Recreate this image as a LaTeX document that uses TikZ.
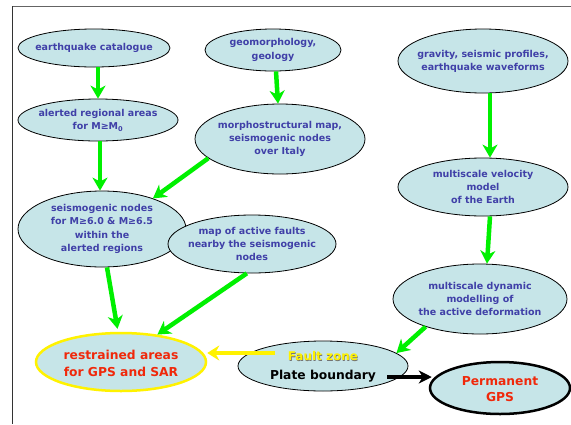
\documentclass[tikz,border=0pt]{standalone}
\usepackage{fontspec}
\setmainfont{DejaVu Sans}
\usetikzlibrary{shapes.geometric,arrows.meta}
\definecolor{bubble}{RGB}{198,229,232}
\definecolor{inktext}{RGB}{64,64,168}
\definecolor{flow}{RGB}{0,240,0}
\definecolor{hotred}{RGB}{240,40,10}
\definecolor{framegray}{RGB}{100,100,100}
\begin{document}
\begin{tikzpicture}[x=1pt,y=-1pt,
  bub/.style n args={2}{ellipse, draw=black, line width=0.8pt, fill=bubble,
    minimum width=#1, minimum height=#2, inner sep=0pt},
  lab/.style={align=center, inner sep=0pt,
    font=\bfseries\fontsize{9.5}{13.2}\selectfont, text=inktext},
  biglab/.style={align=center, inner sep=0pt,
    font=\bfseries\fontsize{12.3}{17}\selectfont, text=hotred},
  flowarrow/.style={draw=flow, line width=4.5pt,
    -{Stealth[length=13pt,width=15pt,inset=4pt]}},
  yelarrow/.style={draw=yellow, line width=4pt,
    -{Stealth[length=12pt,width=15pt,inset=4pt]}},
  blkarrow/.style={draw=black, line width=3.5pt,
    -{Stealth[length=13pt,width=13pt,inset=4pt]}}]
\useasboundingbox (0,0) rectangle (571,424);
\fill[white] (0,0) rectangle (571,424);
% frame edges
\draw[framegray, line width=1.3pt] (12,6.5) -- (571,6.5);
\draw[black!80, line width=1pt] (12.5,6) -- (12.5,424);

% ellipses
\node[bub={152pt}{38pt}] (cat) at (94,48) {};
\node[bub={136pt}{42pt}] (geo) at (273,50) {};
\node[bub={170pt}{64pt}] (grav) at (483,61) {};
\node[bub={160pt}{42pt}] (alert) at (98,120) {};
\node[bub={170pt}{70pt}] (morph) at (280,139) {};
\node[bub={170pt}{58pt}] (vel) at (483,187) {};
\node[bub={168pt}{76pt}] (seis) at (102,229) {};
\node[bub={168pt}{58pt}] (faults) at (252,244) {};
\node[bub={174pt}{70pt}] (dyn) at (480,299) {};
\node[bub={170pt}{58pt}, draw=yellow, line width=2.5pt] (restr) at (121,362) {};
\node[bub={170pt}{50pt}] (plate) at (323,366) {};
\node[bub={140pt}{52pt}, line width=2.5pt] (perm) at (500,388) {};

% texts
\node[lab] (catT) at (cat) {earthquake catalogue};
\node[lab] (geoT) at (geo) {geomorphology,\\geology};
\node[lab] (gravT) at (grav) {gravity, seismic profiles,\\earthquake waveforms};
\node[lab] (alertT) at (alert) {alerted regional areas\\for M≥M\textsubscript{0}};
\node[lab] (morphT) at (morph) {morphostructural map,\\seismogenic nodes\\over Italy};
\node[lab] (velT) at (vel) {multiscale velocity\\model\\of the Earth};
\node[lab] (seisT) at (seis) {seismogenic nodes\\for M≥6.0 \& M≥6.5\\within the\\alerted regions};
\node[lab] (faultsT) at (faults) {map of active faults\\nearby the seismogenic\\nodes};
\node[lab] (dynT) at (dyn) {multiscale dynamic\\modelling of\\the active deformation};
\node[biglab] (restrT) at (121,363) {restrained areas\\for GPS and SAR};
\node[text=black!55, font=\bfseries\fontsize{12}{12}\selectfont] (fzs) at (323.6,356.6) {Fault zone};
\node[text=yellow, font=\bfseries\fontsize{12}{12}\selectfont] (fz) at (323,356) {Fault zone};
\node[text=black, font=\bfseries\fontsize{12.3}{12}\selectfont] (pb) at (323,376) {Plate boundary};
\node[biglab, font=\bfseries\fontsize{12.3}{16}\selectfont] (permT) at (500,389) {Permanent\\GPS};

% connectors
\draw[flowarrow] (cat.south -| alert.north) -- (alert.north);
\draw[flowarrow] ([xshift=3pt]geo.south) -- ([xshift=-2pt]morph.north);
\draw[flowarrow] ([xshift=7pt]grav.south) -- ([xshift=7pt]vel.north);
\draw[flowarrow] ([xshift=2pt]alert.south) -- ([xshift=-2pt]seis.north);
\draw[flowarrow] (morph.195) -- (seis.31);
\draw[flowarrow] ([xshift=7pt]vel.south) -- ([xshift=7pt]dyn.north);
\draw[flowarrow, shorten >=3pt] ([xshift=5pt]seis.south) -- ([xshift=-3pt]restr.north);
\draw[flowarrow] (faults.260) -- (restr.37);
\draw[flowarrow] (dyn.207) -- (plate.10);
\coordinate (fzstart) at (275,353);
\draw[yelarrow] (fzstart) -- (restr.east |- fzstart);
\coordinate (pbstart) at (387,377);
\draw[blkarrow] (pbstart) -- ([xshift=3pt]perm.west |- pbstart);
\end{tikzpicture}
\end{document}
